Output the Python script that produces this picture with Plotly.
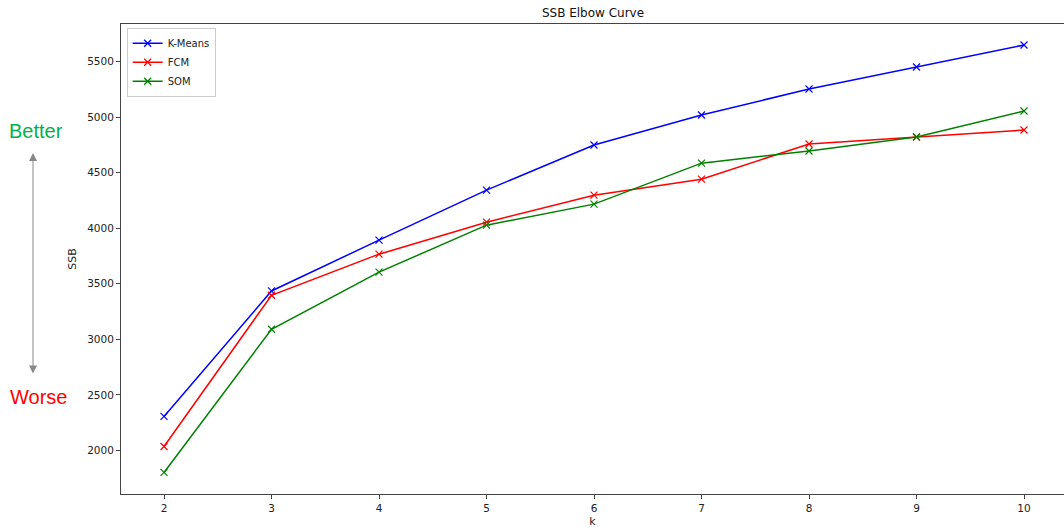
import plotly.graph_objects as go

k = [2, 3, 4, 5, 6, 7, 8, 9, 10]
kmeans = [2306, 3435, 3892, 4342, 4748, 5018, 5252, 5450, 5648]
fcm = [2035, 3396, 3766, 4054, 4297, 4441, 4757, 4820, 4883]
som = [1802, 3090, 3604, 4027, 4216, 4585, 4694, 4820, 5054]

series = [("K-Means", kmeans, "blue"), ("FCM", fcm, "red"), ("SOM", som, "green")]

W, H = 1064, 531
L, T, B = 121, 24, 37
PW, PH = W - L, H - T - B

fig = go.Figure()
for name, vals, col in series:
    fig.add_trace(go.Scatter(
        x=k, y=vals, name=name, mode="lines+markers",
        line=dict(color=col, width=1.5),
        marker=dict(symbol="x-thin", size=7, line=dict(color=col, width=1.2)),
    ))

def px(xp):
    return (xp - L) / PW

def py(yp):
    return (H - B - yp) / PH

axis_common = dict(showgrid=False, zeroline=False, showline=True, linecolor="#444",
                   linewidth=1, mirror=True, ticks="outside", ticklen=4,
                   tickcolor="#444", tickfont=dict(size=10.5, color="#222"))

fig.update_layout(
    width=W, height=H,
    margin=dict(l=L, r=0, t=T, b=B),
    paper_bgcolor="white", plot_bgcolor="white",
    font=dict(family="DejaVu Sans", color="#222"),
    title=dict(text="SSB Elbow Curve", x=593 / W,
               xanchor="center", y=1 - 13 / H, yanchor="middle", font=dict(size=12, color="#111")),
    xaxis=dict(range=[1.6, 10.372], tickvals=k, title=dict(text="k", font=dict(size=11), standoff=4),
               **axis_common),
    yaxis=dict(range=[1608, 5837], tickvals=[2000, 2500, 3000, 3500, 4000, 4500, 5000, 5500],
               title=dict(text="SSB", font=dict(size=11), standoff=8), **axis_common),
    legend=dict(x=0.006, y=0.992, xanchor="left", yanchor="top", bgcolor="rgba(255,255,255,0.8)",
                bordercolor="#ccc", borderwidth=1, font=dict(size=10), itemwidth=30,
                tracegroupgap=0),
    showlegend=True,
)

fig.add_annotation(xref="paper", yref="paper", x=px(36), y=py(131), text="Better",
                   showarrow=False, font=dict(size=20, color="#00b050", family="Liberation Sans"),
                   xanchor="center", yanchor="middle")
fig.add_annotation(xref="paper", yref="paper", x=px(38), y=py(397), text="Worse",
                   showarrow=False, font=dict(size=20, color="red", family="Liberation Sans"),
                   xanchor="center", yanchor="middle")
fig.add_annotation(xref="paper", yref="paper", x=px(33), y=py(153), text="",
                   showarrow=True, ax=0, ay=222, arrowside="end+start", arrowhead=2,
                   arrowsize=1.6, arrowwidth=1, arrowcolor="#888", standoff=0, startstandoff=0)

fig.write_html("out.html")
